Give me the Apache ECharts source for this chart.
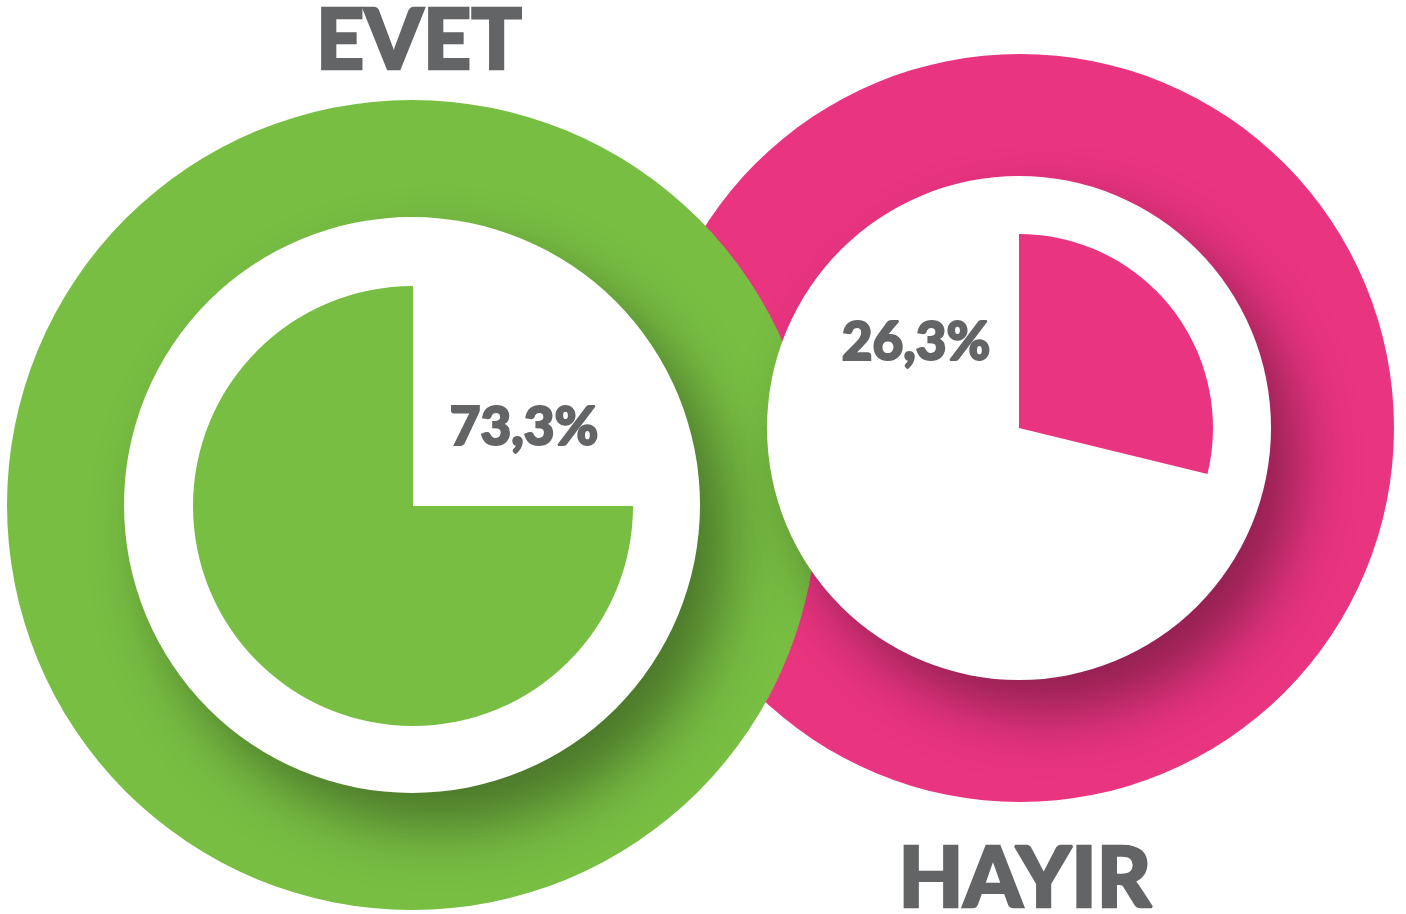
<!DOCTYPE html>
<html>
<head>
<meta charset="utf-8">
<title>EVET / HAYIR</title>
<script src="https://cdn.jsdelivr.net/npm/echarts@6/dist/echarts.min.js"></script>
<style>
  html, body { margin: 0; padding: 0; background: #fff; }
  #main { width: 1406px; height: 914px; }
</style>
</head>
<body>
<div id="main"></div>
<script>
// answers and their printed shares
const answers = ['EVET', 'HAYIR']
const shareLabels = ['73,3%', '26,3%']
// arc size of each inner sector, as drawn (percent of a full turn)
const sectorShares = [75, 28.8]
const colors = ['#78be43', '#e93480']

const chart = echarts.init(document.getElementById('main'))

const gray = '#636466'
const font = 'Lato, "Open Sans", sans-serif'

function disc(name, center, r, color, shadow) {
  const itemStyle = { color: color, borderWidth: 0 }
  if (shadow) {
    itemStyle.shadowColor = 'rgba(0, 0, 0, 0.38)'
    itemStyle.shadowBlur = 60
    itemStyle.shadowOffsetX = 28
    itemStyle.shadowOffsetY = 34
  }
  return {
    name: name,
    type: 'pie',
    silent: true,
    center: center,
    radius: [0, r],
    label: { show: false },
    labelLine: { show: false },
    itemStyle: itemStyle,
    data: [{ value: 1, name: name }]
  }
}

function sector(name, center, r, share, color, clockwise) {
  return {
    name: name,
    type: 'pie',
    silent: true,
    center: center,
    radius: [0, r],
    startAngle: 90,
    clockwise: clockwise,
    label: { show: false },
    labelLine: { show: false },
    itemStyle: { borderWidth: 0 },
    data: [
      { value: share, name: name, itemStyle: { color: color } },
      { value: 100 - share, name: 'rest', itemStyle: { color: 'transparent' } }
    ]
  }
}

// heavy gray text, a thin stroke makes the face a bit bolder
function label(text, x, y, size, stroke) {
  return {
    type: 'text',
    z: 100,
    x: x,
    y: y,
    style: {
      text: text,
      fill: gray,
      stroke: gray,
      lineWidth: stroke,
      font: '900 ' + size + 'px ' + font,
      align: 'center',
      verticalAlign: 'middle'
    }
  }
}

const option = {
  animation: false,
  backgroundColor: '#ffffff',
  series: [
    disc('hayir-ring', [1020, 428], 374, colors[1], false),
    disc('evet-ring', [412, 505], 405, colors[0], false),
    disc('evet-hole', [412, 505], 288, '#ffffff', true),
    disc('hayir-hole', [1019, 428], 252, '#ffffff', true),
    sector(answers[0], [413, 506], 220, sectorShares[0], colors[0], false),
    sector(answers[1], [1019, 428], 194, sectorShares[1], colors[1], true)
  ],
  graphic: [
    label(answers[0], 419, 42, 84, 2.5),
    label(answers[1], 1025, 880, 84, 2.5),
    label(shareLabels[0], 524, 428, 53, 2),
    label(shareLabels[1], 916, 343, 53, 2)
  ]
}

chart.setOption(option)
</script>
</body>
</html>
